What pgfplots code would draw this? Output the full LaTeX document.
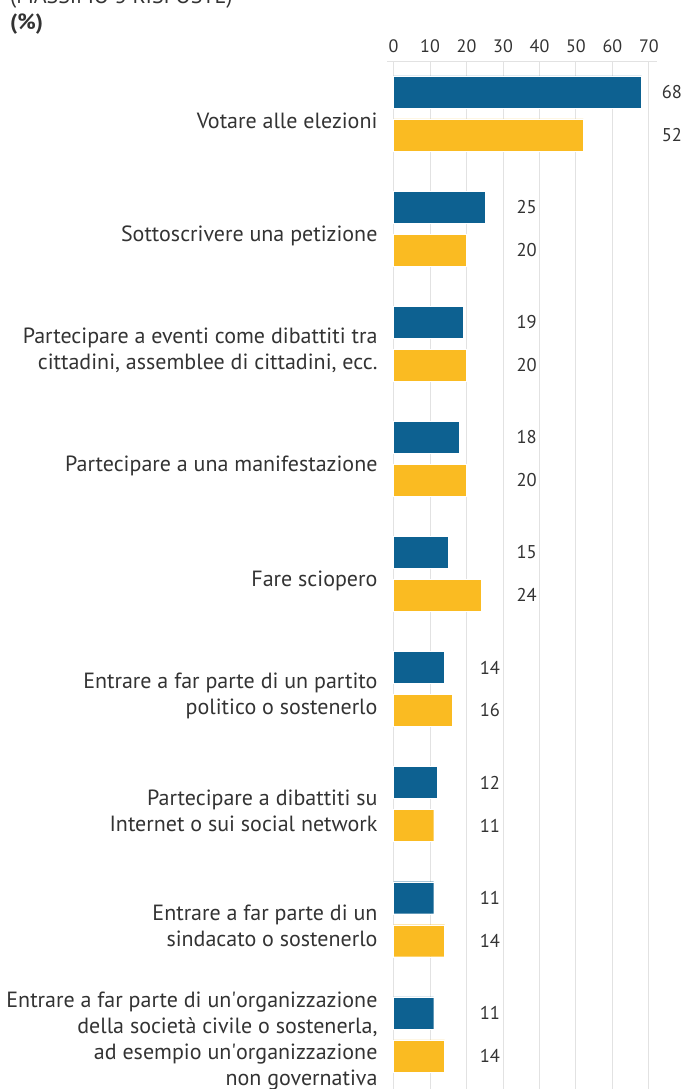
\documentclass[border=0pt]{standalone}
\usepackage{pgfplots}
\pgfplotsset{compat=1.18}
\usepackage{fontspec}
\setmainfont{PT Sans}
\definecolor{ecblue}{HTML}{0D6191}
\definecolor{ecyellow}{HTML}{FABB22}
\definecolor{txt}{HTML}{333333}
\definecolor{gridc}{HTML}{E2E2E2}

\begin{document}
\begin{tikzpicture}
\begin{axis}[
    at={(387pt,0pt)}, anchor=south west,
    scale only axis,
    width=270pt, height=1027pt,
    xmin=-1.8, xmax=72.2,
    ymin=0.525, ymax=9.447,
    axis x line*=top,
    axis y line*=left,
    x axis line style={gridc, line width=1pt, -},
    y axis line style={draw=none},
    xtick={0,10,...,70},
    major tick length=0pt,
    xmajorgrids,
    grid style={gridc, line width=1pt},
    /pgf/number format/assume math mode=true,
    xticklabel style={font=\fontsize{18}{20}\selectfont, text=txt, yshift=6pt},
    ytick={1,...,9},
    yticklabels={
      {Entrare a far parte di un\textquotesingle organizzazione\\della società civile o sostenerla,\\ad esempio un\textquotesingle organizzazione\\non governativa},
      {Entrare a far parte di un\\sindacato o sostenerlo},
      {Partecipare a dibattiti su\\Internet o sui social network},
      {Entrare a far parte di un partito\\politico o sostenerlo},
      {Fare sciopero},
      {Partecipare a una manifestazione},
      {Partecipare a eventi come dibattiti tra\\cittadini, assemblee di cittadini, ecc.},
      {Sottoscrivere una petizione},
      {Votare alle elezioni}},
    yticklabel style={align=right, font=\fontsize{22}{26}\selectfont, text=txt, yshift=-7pt, xshift=-6pt},
    clip=false,
    point meta=explicit symbolic,
]
% blue series (upper bar of each pair)
\addplot[xbar, bar width=32pt, bar shift=21.5pt, fill=ecblue, draw=white, line width=0.4pt]
  coordinates {(68,9) (25,8) (19,7) (18,6) (15,5) (14,4) (12,3) (11,2) (11,1)};
% yellow series (lower bar of each pair)
\addplot[xbar, bar width=32pt, bar shift=-21.5pt, fill=ecyellow, draw=white, line width=0.4pt]
  coordinates {(52,9) (20,8) (20,7) (20,6) (24,5) (16,4) (11,3) (14,2) (14,1)};
% value labels
\addplot[draw=none, mark=none, nodes near coords,
  nodes near coords style={anchor=center, font=\fontsize{18.5}{20}\selectfont, text=txt}]
  table[meta=label] {
x y label
76.3 9.187 68
76.3 8.813 52
36.5 8.187 25
36.5 7.813 20
36.5 7.187 19
36.5 6.813 20
36.5 6.187 18
36.5 5.813 20
36.5 5.187 15
36.5 4.813 24
26.4 4.187 14
26.4 3.813 16
26.4 3.187 12
26.4 2.813 11
26.4 2.187 11
26.4 1.813 14
26.4 1.187 11
26.4 0.813 14
};
\end{axis}
\node[anchor=base west, font=\fontsize{22}{24}\selectfont, text=txt, inner sep=0pt] at (10pt,1085pt) {(MASSIMO 3 RISPOSTE)};
\node[anchor=west, font=\bfseries\fontsize{22}{24}\selectfont, text=txt, inner sep=0pt] at (10pt,1065pt) {(\%)};
\pgfresetboundingbox
\path[use as bounding box] (0pt,0pt) rectangle (685pt,1089pt);
\end{tikzpicture}
\end{document}
